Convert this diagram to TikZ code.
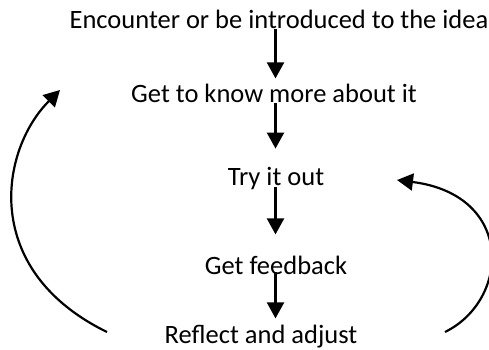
\documentclass[tikz,border=0pt]{standalone}
\usepackage{fontspec}
\setmainfont{Carlito}
\usetikzlibrary{arrows.meta}
\begin{document}
\begin{tikzpicture}[x=1pt,y=-1pt,
        stage/.style={anchor=base,inner sep=1pt,font=\fontsize{26.5}{30}\selectfont},
        flow/.style={-{Triangle[width=17pt,length=16pt]},line width=2.2pt}]
        \useasboundingbox (0,0) rectangle (489,349);
        \coordinate (axis) at (275.5,0);

        \node[stage] (enc) at (279,28) {Encounter or be introduced to the idea};
        \node[stage] (know) at (274,102) {Get to know more about it};
        \node[stage] (try) at (276,185) {Try it out};
        \node[stage] (fb) at (276,274) {Get feedback};
        \node[stage] (refl) at (261,343) {Reflect and adjust};

        \draw[flow,shorten >=4pt] (enc.south -| axis) -- (know.north -| axis);
        \draw[flow,shorten >=17pt] (know.south -| axis) -- (try.north -| axis);
        \draw[flow,shorten <=-3pt,shorten >=20pt] (try.south -| axis) -- (fb.north -| axis);
        \draw[flow,shorten <=-3pt,shorten >=5pt] (fb.south -| axis) -- (refl.north -| axis);

        % loops back from reflecting
        \coordinate (backL) at (107,332);
        \coordinate (toKnow) at (60,90);
        \coordinate (backR) at (445,332);
        \coordinate (toTry) at (397,180);
        \draw[flow] (backL) .. controls (-20,270) and (0,150) .. (toKnow);
        \draw[flow] (backR) .. controls (510,300) and (515,195) .. (toTry);
    \end{tikzpicture}
\end{document}
